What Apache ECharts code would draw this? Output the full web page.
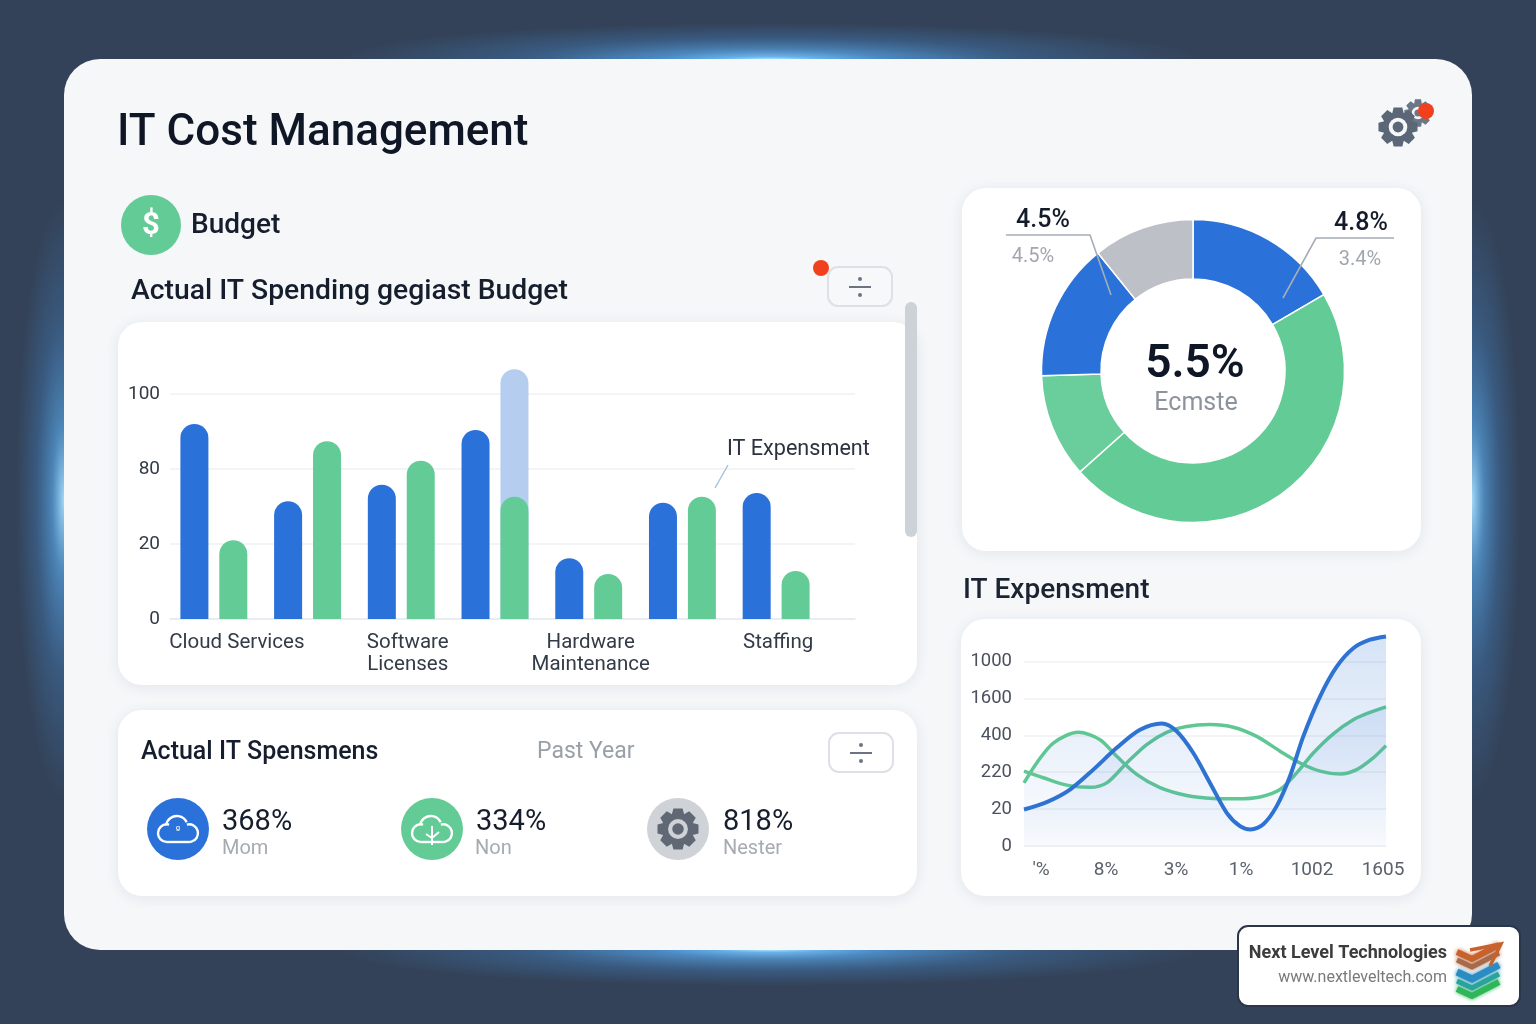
<!DOCTYPE html>
<html>
<head>
<meta charset="utf-8">
<title>IT Cost Management</title>
<script src="https://cdn.jsdelivr.net/npm/echarts@6/dist/echarts.min.js"></script>
<style>
html,body{margin:0;padding:0;background:#334258;}
#main{width:1536px;height:1024px;}
</style>
</head>
<body>
<div id="main"></div>
<script>
// the tick labels on both charts are unevenly spaced, so values are in gridline steps
var barTicks = ['0', '20', '80', '100'];
var barLabels = ['{c|Cloud Services}', '', '{s|Software}\n{s|Licenses}', '', '{h|Hardware}\n{h|Maintenance}', '', '{h|Staffing}'];
var barBlue = [2.6, 1.57, 1.79, 2.52, 0.81, 1.55, 1.68];
var barGreen = [1.05, 2.37, 2.11, 1.63, 0.6, 1.63, 0.64];
var barLight = [null, null, null, 3.33, null, null, null];

var pieNames = ['Blue A', 'Green A', 'Green B', 'Blue B', 'Grey'];
var pieValues = [16.6, 46.8, 11.1, 14.7, 10.8];
var pieColors = ['#2a72d9', '#62cb96', '#69ce9c', '#2a72d9', '#bdc0c6'];

var lineTicks = ['0', '20', '220', '400', '1600', '1000'];
var lineXPos = [17, 82, 152, 217, 288, 359];
var lineXLabels = ['\'%', '8%', '3%', '1%', '1002', '1605'];
var lineBlue = [[0,0.99],[22.7,1.19],[46,1.53],[69.3,2.07],[92.7,2.66],[116,3.15],[137.7,3.32],[152.7,3.11],[169.3,2.52],[186,1.71],[202.7,0.9],[216,0.54],[226.7,0.45],[239.3,0.59],[252.7,1.08],[266,1.89],[279.3,2.97],[296,4.05],[312.7,4.86],[329.3,5.36],[346,5.59],[362,5.68]];
var lineGreenA = [[0,1.71],[12.7,2.25],[29.3,2.79],[54.3,3.08],[76,2.88],[92.7,2.43],[112.7,1.94],[136,1.58],[162.7,1.37],[189.3,1.29],[212.7,1.28],[236,1.33],[256,1.53],[272.7,1.98],[289.3,2.52],[309.3,3.04],[329.3,3.42],[346,3.62],[362,3.77]];
var lineGreenB = [[0,2.03],[19.3,1.85],[42.7,1.65],[66,1.59],[82.7,1.71],[102.7,2.25],[122.7,2.75],[142.7,3.08],[162.7,3.24],[186,3.29],[209.3,3.22],[232.7,2.97],[256,2.57],[276,2.25],[296,2.03],[316,1.95],[332.7,2.07],[349.3,2.39],[362,2.72]];

var font = 'Roboto, "Noto Sans", sans-serif';

function txt(x, y, text, size, weight, color, align, family) {
    return {
        type: 'text', z: 12, x: x, y: y + size * 0.1,
        style: {
            text: text, fontSize: size, fontWeight: weight, fill: color,
            fontFamily: family || font, textAlign: align || 'left', textVerticalAlign: 'middle'
        }
    };
}
function card(x, y, w, h, r, fill) {
    return {
        type: 'rect', z: -5,
        shape: {x: x, y: y, width: w, height: h, r: r},
        style: {fill: fill || '#fff', shadowBlur: 14, shadowColor: 'rgba(60,80,110,0.10)', shadowOffsetY: 2}
    };
}
function dot(x, y, r, fill, z) {
    return {type: 'circle', z: z || 8, shape: {cx: x, cy: y, r: r}, style: {fill: fill}};
}
// circle squashed by scale, so the radial gradient stays elliptical
function glow(cx, cy, rx, ry) {
    return {
        type: 'circle', z: -9, x: cx, y: cy, scaleX: rx / 100, scaleY: ry / 100,
        shape: {cx: 0, cy: 0, r: 100},
        style: {fill: new echarts.graphic.RadialGradient(0.5, 0.5, 0.5, [
            {offset: 0, color: 'rgba(170,225,255,0.95)'},
            {offset: 0.25, color: 'rgba(90,170,235,0.65)'},
            {offset: 0.6, color: 'rgba(70,140,210,0.3)'},
            {offset: 1, color: 'rgba(70,140,210,0)'}
        ])}
    };
}
function gear(cx, cy, R, r, teeth, color, hole, z) {
    var pts = [];
    var step = Math.PI * 2 / teeth;
    for (var i = 0; i < teeth; i++) {
        var a = i * step;
        [[-0.5, r], [-0.28, R], [0.28, R], [0.5, r]].forEach(function (p) {
            pts.push([cx + p[1] * Math.cos(a + p[0] * step), cy + p[1] * Math.sin(a + p[0] * step)]);
        });
    }
    return [
        {type: 'polygon', z: z, shape: {points: pts}, style: {fill: color}},
        {type: 'circle', z: z, shape: {cx: cx, cy: cy, r: r * 0.62}, style: {fill: hole}},
        {type: 'circle', z: z, shape: {cx: cx, cy: cy, r: r * 0.36}, style: {fill: color}}
    ];
}
function cloud(cx, cy, w, h) {
    var rad = Math.PI / 180;
    var st = {fill: 'none', stroke: '#fff', lineWidth: 2.4};
    var bottom = cy + h / 2;
    var lr = h * 0.34, rr = h * 0.34, tr = h * 0.42;
    return [
        {type: 'arc', z: 8, shape: {cx: cx - w / 2 + lr, cy: bottom - lr, r: lr, startAngle: 90 * rad, endAngle: 285 * rad}, style: st},
        {type: 'arc', z: 8, shape: {cx: cx - w * 0.03, cy: cy - h * 0.08, r: tr, startAngle: 190 * rad, endAngle: 335 * rad}, style: st},
        {type: 'arc', z: 8, shape: {cx: cx + w / 2 - rr, cy: bottom - rr, r: rr, startAngle: 255 * rad, endAngle: 90 * rad}, style: st},
        {type: 'line', z: 8, shape: {x1: cx - w / 2 + lr, y1: bottom, x2: cx + w / 2 - rr, y2: bottom}, style: st}
    ];
}
function seg(points, color, width, z) {
    return {type: 'polyline', z: z || 9, shape: {points: points}, style: {fill: 'none', stroke: color, lineWidth: width}};
}
function button(x, y, fill) {
    var cx = x + 32, cy = y + 20;
    return [
        {type: 'rect', z: 7, shape: {x: x, y: y, width: 64, height: 39, r: 10}, style: {fill: fill, stroke: '#dde1e6', lineWidth: 2}},
        seg([[cx - 11, cy], [cx + 11, cy]], '#6b7480', 2),
        dot(cx, cy - 8, 2, '#6b7480', 9),
        dot(cx, cy + 8, 2, '#6b7480', 9)
    ];
}

var elements = [
    glow(770, 59, 430, 36), glow(770, 59, 220, 10),
    glow(770, 950, 430, 36), glow(770, 950, 220, 10),
    glow(64, 500, 48, 300), glow(1472, 500, 48, 300),
    {
        type: 'rect', z: -6,
        shape: {x: 64, y: 59, width: 1408, height: 891, r: 36},
        style: {fill: '#f5f7f9'}
    },
    card(118, 322, 799, 363, 24),
    card(118, 710, 799, 186, 24),
    card(962, 188, 459, 363, 24),
    card(961, 619, 460, 277, 24),

    txt(117, 130, 'IT Cost Management', 44, 500, '#0f1726'),
    dot(151, 225, 30, '#62cb96'),
    txt(151, 223, '$', 31, 700, '#fff', 'center'),
    txt(191, 223, 'Budget', 28, 500, '#161e2e'),
    txt(131, 289, 'Actual IT Spending gegiast Budget', 28.3, 500, '#161e2e'),
    txt(963, 588, 'IT Expensment', 28, 500, '#1b2433'),

    {type: 'rect', z: 7, shape: {x: 905, y: 302, width: 12, height: 235, r: 6}, style: {fill: '#cdd2d9'}},
    dot(821, 268, 8, '#f0401e'),

    txt(727, 447, 'IT Expensment', 21.6, 400, '#2b3340'),
    seg([[728, 465], [715, 488]], '#a9c1e0', 1.5),

    // donut labels
    txt(1043, 218, '4.5%', 25, 500, '#141b29', 'center'),
    txt(1033, 255, '4.5%', 20, 400, '#a2a7ae', 'center'),
    txt(1361, 221, '4.8%', 25, 500, '#141b29', 'center'),
    txt(1360, 258, '3.4%', 20, 400, '#a2a7ae', 'center'),
    seg([[1006, 235], [1090, 235], [1111, 295]], '#a5acb8', 1.6),
    seg([[1394, 238], [1316, 238], [1283, 298]], '#a5acb8', 1.6),
    txt(1195, 361, '5.5%', 46, 600, '#0f1726', 'center'),
    txt(1196, 401, 'Ecmste', 25, 400, '#8d939c', 'center'),

    // stats row
    txt(141, 750, 'Actual IT Spensmens', 25, 500, '#161e2e'),
    txt(537, 750, 'Past Year', 23, 400, '#9aa0a8'),
    dot(178, 829, 31, '#2a72d9'),
    txt(178, 829, 'ᵍ', 11, 500, '#fff', 'center'),
    txt(222, 820, '368%', 29, 400, '#161e2e'),
    txt(222, 847, 'Mom', 20, 400, '#a6abb2'),
    dot(432, 829, 31, '#62cb96'),
    seg([[432, 826], [432, 845]], '#fff', 2),
    seg([[426, 834], [432, 838], [439, 832]], '#fff', 2),
    txt(476, 820, '334%', 29, 400, '#161e2e'),
    txt(475, 847, 'Non', 20, 400, '#a6abb2'),
    dot(678, 829, 31, '#cfd2d7'),
    txt(723, 820, '818%', 29, 400, '#161e2e'),
    txt(723, 847, 'Nester', 20, 400, '#a6abb2'),

    // watermark badge
    {
        type: 'rect', z: 11,
        shape: {x: 1238, y: 926, width: 282, height: 80, r: 10},
        style: {fill: '#fff', stroke: '#2b3648', lineWidth: 2}
    },
    txt(1447, 952, 'Next Level Technologies', 18, 700, '#3c3c3c', 'right'),
    txt(1447, 976, 'www.nextleveltech.com', 16, 400, '#7a7a7a', 'right')
];
elements = elements.concat(cloud(178, 829, 40, 26), cloud(432, 829, 40, 26));
elements = elements.concat(button(828, 267, '#f7f8fa'), button(829, 733, '#fff'));
elements = elements.concat(gear(1418, 113, 14, 10, 8, '#6b7686', '#f5f7f9', 7));
elements = elements.concat(gear(1398, 127, 20, 15, 8, '#5b6677', '#f5f7f9', 8));
elements.push(dot(1426, 111, 8, '#f0401e', 9));
elements = elements.concat(gear(678, 829, 21, 16, 8, '#5f6874', '#cfd2d7', 8));
[
    {c: '#c8622c', o: 0, w: 6},
    {c: '#a86a48', o: 8, w: 5},
    {c: '#2b8cc4', o: 20, w: 7},
    {c: '#2aa3a0', o: 29, w: 5},
    {c: '#2fb55a', o: 37, w: 6}
].forEach(function (s) {
    var g = seg([[1457, 952 + s.o], [1472, 959 + s.o], [1499, 945 + s.o]], s.c, s.w, 12);
    g.style.shadowBlur = 4;
    g.style.shadowColor = s.c;
    elements.push(g);
});
elements.push(seg([[1470, 950], [1501, 944], [1490, 966]], '#c8622c', 3.5, 12));

var axisText = '#333b47';

var chart = echarts.init(document.getElementById('main'));
chart.setOption({
    backgroundColor: '#334258',
    animation: false,
    graphic: {elements: elements},
    grid: [
        {left: 170, top: 319, width: 685, height: 300},
        {left: 167, top: 319, width: 656, height: 300},
        {left: 1024, top: 624.6, width: 362, height: 221.4}
    ],
    xAxis: [
        {
            gridIndex: 0, type: 'value', min: 0, max: 1,
            axisLine: {show: true, lineStyle: {color: '#e6e9ee', width: 1.5}},
            axisTick: {show: false}, axisLabel: {show: false}, splitLine: {show: false}
        },
        {
            gridIndex: 1, type: 'category', data: barLabels,
            axisLine: {show: false}, axisTick: {show: false},
            axisLabel: {
                interval: 0, fontFamily: font, fontSize: 20.5, color: axisText, margin: 13, lineHeight: 22,
                rich: {
                    c: {fontFamily: font, fontSize: 20.5, color: axisText, padding: [0, 0, 0, 46]},
                    s: {fontFamily: font, fontSize: 20.5, color: axisText, lineHeight: 22, padding: [0, 0, 0, 13]},
                    h: {fontFamily: font, fontSize: 20.5, color: axisText, lineHeight: 22, padding: [0, 0, 0, 4]}
                }
            }
        },
        {gridIndex: 1, type: 'category', data: barLabels, show: false},
        {
            gridIndex: 2, type: 'value', min: 0, max: 362,
            axisLine: {show: true, lineStyle: {color: '#eceef1'}},
            axisTick: {show: false},
            splitLine: {show: false},
            axisLabel: {
                customValues: lineXPos,
                fontFamily: font, fontSize: 19, color: '#5a616c', margin: 15,
                formatter: function (v) { return lineXLabels[lineXPos.indexOf(v)]; }
            }
        }
    ],
    yAxis: [
        {
            gridIndex: 0, type: 'value', min: 0, max: 4, interval: 1,
            axisLine: {show: false}, axisTick: {show: false},
            splitLine: {showMaxLine: false, lineStyle: {color: '#eef0f3', width: 1.5}},
            axisLabel: {
                fontFamily: font, fontSize: 19, color: axisText, margin: 10, padding: [3, 0, 0, 0],
                formatter: function (v) { return barTicks[v] || ''; }
            }
        },
        {gridIndex: 1, type: 'value', min: 0, max: 4, interval: 1, show: false},
        {
            gridIndex: 2, type: 'value', min: 0, max: 6, interval: 1,
            axisLine: {show: false}, axisTick: {show: false},
            splitLine: {showMaxLine: false, lineStyle: {color: '#eef0f3', width: 1.5}},
            axisLabel: {
                fontFamily: font, fontSize: 18.5, color: '#4a515c', margin: 12, padding: [2, 0, 0, 0],
                formatter: function (v) { return lineTicks[v] || ''; }
            }
        }
    ],
    series: [
        {
            name: 'Budget', type: 'bar', xAxisIndex: 1, yAxisIndex: 1, z: 3,
            data: barBlue, barWidth: 28, barGap: '39%',
            itemStyle: {color: '#2a72d9', borderRadius: [14, 14, 0, 0]}
        },
        {
            name: 'Actual', type: 'bar', xAxisIndex: 1, yAxisIndex: 1, z: 3,
            data: barGreen, barWidth: 28, barGap: '39%',
            itemStyle: {color: '#62cb96', borderRadius: [14, 14, 0, 0]}
        },
        // second x axis so the pale bar can sit behind the green one
        {
            name: 'Spacer', type: 'bar', xAxisIndex: 2, yAxisIndex: 1,
            data: [], barWidth: 28, barGap: '39%'
        },
        {
            name: 'Forecast', type: 'bar', xAxisIndex: 2, yAxisIndex: 1, z: 2,
            data: barLight, barWidth: 28, barGap: '39%',
            itemStyle: {color: '#b5cef0', borderRadius: [14, 14, 0, 0]}
        },
        {
            name: 'Share', type: 'pie',
            center: [1193, 371], radius: [92, 151.5], startAngle: 90, clockwise: true,
            label: {show: false}, labelLine: {show: false},
            itemStyle: {borderColor: '#fff', borderWidth: 1.5},
            data: pieValues.map(function (v, i) {
                return {name: pieNames[i], value: v, itemStyle: {color: pieColors[i]}};
            })
        },
        {
            name: 'Expense', type: 'line', xAxisIndex: 3, yAxisIndex: 2, z: 4,
            data: lineBlue, smooth: 0.3, symbol: 'none',
            lineStyle: {color: '#2e72d2', width: 4},
            areaStyle: {color: new echarts.graphic.LinearGradient(0, 0, 0, 1, [
                {offset: 0, color: 'rgba(46,114,210,0.28)'},
                {offset: 1, color: 'rgba(46,114,210,0.03)'}
            ])}
        },
        {
            name: 'Trend A', type: 'line', xAxisIndex: 3, yAxisIndex: 2, z: 3,
            data: lineGreenA, smooth: 0.3, symbol: 'none',
            lineStyle: {color: '#5fc794', width: 3.5},
            areaStyle: {color: new echarts.graphic.LinearGradient(0, 0, 0, 1, [
                {offset: 0, color: 'rgba(46,114,210,0.18)'},
                {offset: 1, color: 'rgba(46,114,210,0.02)'}
            ])}
        },
        {
            name: 'Trend B', type: 'line', xAxisIndex: 3, yAxisIndex: 2, z: 3,
            data: lineGreenB, smooth: 0.3, symbol: 'none',
            lineStyle: {color: '#5fc794', width: 3.5}
        }
    ]
});
</script>
</body>
</html>
